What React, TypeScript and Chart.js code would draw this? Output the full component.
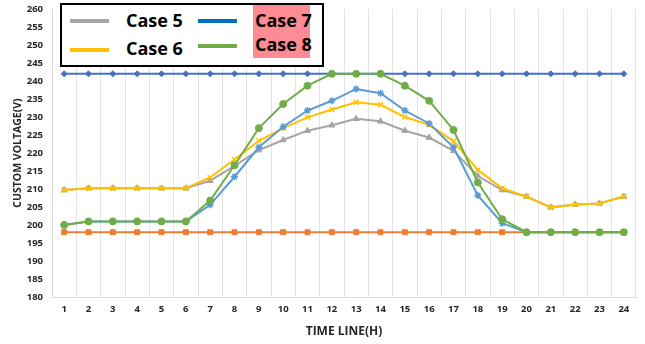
import React, { useEffect, useRef } from "react";
import { Chart, registerables } from "chart.js";

Chart.register(...registerables);

const hours = ["1", "2", "3", "4", "5", "6", "7", "8", "9", "10", "11", "12", "13", "14", "15", "16", "17", "18", "19", "20", "21", "22", "23", "24"];

const case7 = [242, 242, 242, 242, 242, 242, 242, 242, 242, 242, 242, 242, 242, 242, 242, 242, 242, 242, 242, 242, 242, 242, 242, 242];
const orangeSeries = [198, 198, 198, 198, 198, 198, 198, 198, 198, 198, 198, 198, 198, 198, 198, 198, 198, 198, 198, 198, 198, 198, 198, 198];
const case5 = [209.7, 210.2, 210.2, 210.2, 210.2, 210.2, 212.3, 216.4, 220.8, 223.6, 226.2, 227.7, 229.5, 228.8, 226.2, 224.3, 220.6, 213.6, 209.7, 207.9, 204.9, 205.7, 206, 207.9];
const case6 = [209.7, 210.2, 210.2, 210.2, 210.2, 210.2, 213.2, 218.2, 223.4, 226.9, 229.9, 232.1, 234.1, 233.4, 230, 227.8, 223.3, 215.3, 210.2, 207.9, 204.9, 205.7, 206, 207.9];
const lightBlueSeries = [200, 201, 201, 201, 201, 201, 205.6, 213.4, 221.6, 227.3, 231.8, 234.5, 237.8, 236.6, 231.8, 228.2, 221.6, 208.2, 200.5, 198, 198, 198, 198, 198];
const case8 = [200, 201, 201, 201, 201, 201, 206.8, 216.6, 226.9, 233.6, 238.7, 242, 242, 242, 238.7, 234.5, 226.4, 211.8, 201.6, 198, 198, 198, 198, 198];

const yMin = 180;
const yMax = 260;
const yStep = 5;

const legendItems = [
  { label: "Case 5", color: "#A5A5A5", left: 70, top: 21, textLeft: 126, textMid: 20 },
  { label: "Case 7", color: "#0070C0", left: 198, top: 21, textLeft: 255, textMid: 20 },
  { label: "Case 6", color: "#FFC000", left: 70, top: 50, textLeft: 126, textMid: 48 },
  { label: "Case 8", color: "#70AD47", left: 198, top: 46, textLeft: 255, textMid: 44 },
];

export default function App() {
  const ref = useRef<HTMLCanvasElement | null>(null);

  useEffect(() => {
    if (!ref.current) return;
    const mk = (label: string, data: number[], color: string, style: any, order: number, radius = 3) => ({
      label,
      data,
      borderColor: color,
      backgroundColor: color,
      borderWidth: 2,
      pointStyle: style,
      pointRadius: radius,
      pointBorderWidth: style === "crossRot" || style === "star" ? 1.5 : 1,
      pointBorderColor: color,
      pointBackgroundColor: color,
      order,
      tension: 0,
    });
    const chart = new Chart(ref.current, {
      type: "line",
      data: {
        labels: hours,
        datasets: [
          mk("Case 7", case7, "#4472C4", "rectRot", 6, 3),
          mk("Series 2", orangeSeries, "#ED7D31", "rect", 5, 3.5),
          mk("Case 5", case5, "#A5A5A5", "triangle", 4, 3.5),
          mk("Case 6", case6, "#FFC000", "crossRot", 3, 3.5),
          mk("Series 5", lightBlueSeries, "#5B9BD5", "star", 2, 3.5),
          mk("Case 8", case8, "#70AD47", "circle", 1, 3.5),
        ],
      },
      options: {
        animation: false,
        responsive: false,
        maintainAspectRatio: false,
        layout: { padding: { left: 0, right: 9, top: 9, bottom: 0 } },
        plugins: { legend: { display: false }, tooltip: { enabled: false } },
        scales: {
          x: {
            offset: true,
            grid: { display: true, offset: true, color: "#E3E3E3", drawTicks: false },
            border: { display: true, color: "#D9D9D9" },
            ticks: { color: "#262626", font: { family: "Open Sans", weight: "bold", size: 9.5 }, padding: 7, maxRotation: 0, autoSkip: false },
            title: { display: true, text: "TIME LINE(H)", color: "#262626", font: { family: "Open Sans", weight: "bold", size: 12 }, padding: { top: 0, bottom: 5 } },
            afterFit: (s: any) => { s.height = 47; s.paddingLeft = 0; s.paddingRight = 0; },
          },
          y: {
            min: yMin,
            max: yMax,
            grid: { display: false, drawTicks: false },
            border: { display: true, color: "#D9D9D9" },
            ticks: { stepSize: yStep, color: "#262626", font: { family: "Open Sans", weight: "bold", size: 9.5 }, padding: 9 },
            title: { display: true, text: "CUSTOM VOLTAGE(V)", color: "#262626", font: { family: "Open Sans", weight: "bold", size: 10.5 }, padding: { top: 12, bottom: 0 } },
            afterFit: (s: any) => { s.width = 52; s.paddingTop = 0; s.paddingBottom = 0; },
          },
        },
      },
    });
    return () => chart.destroy();
  }, []);

  return (
    <div style={{ position: "absolute", left: 0, top: 0, width: 645, height: 344, background: "#fff" }}>
      <canvas ref={ref} width={645} height={344} style={{ position: "absolute", left: 0, top: 0 }} />
      <div
        style={{
          position: "absolute",
          left: 60,
          top: 3,
          width: 264,
          height: 64,
          border: "2px solid #000",
          boxSizing: "border-box",
          background: "#fff",
        }}
      />
      <div style={{ position: "absolute", left: 253, top: 5, width: 57, height: 53, background: "#FF8C94" }} />
      {legendItems.map((it) => (
        <React.Fragment key={it.label}>
          <div style={{ position: "absolute", left: it.left, top: it.top - 2, width: 39, height: 4, background: it.color }} />
          <div
            style={{
              position: "absolute",
              left: it.textLeft,
              top: it.textMid - 13,
              height: 26,
              lineHeight: "26px",
              fontFamily: "Open Sans",
              fontWeight: "bold",
              fontSize: 18,
              color: "#000",
              whiteSpace: "nowrap",
            }}
          >
            {it.label}
          </div>
        </React.Fragment>
      ))}
    </div>
  );
}
